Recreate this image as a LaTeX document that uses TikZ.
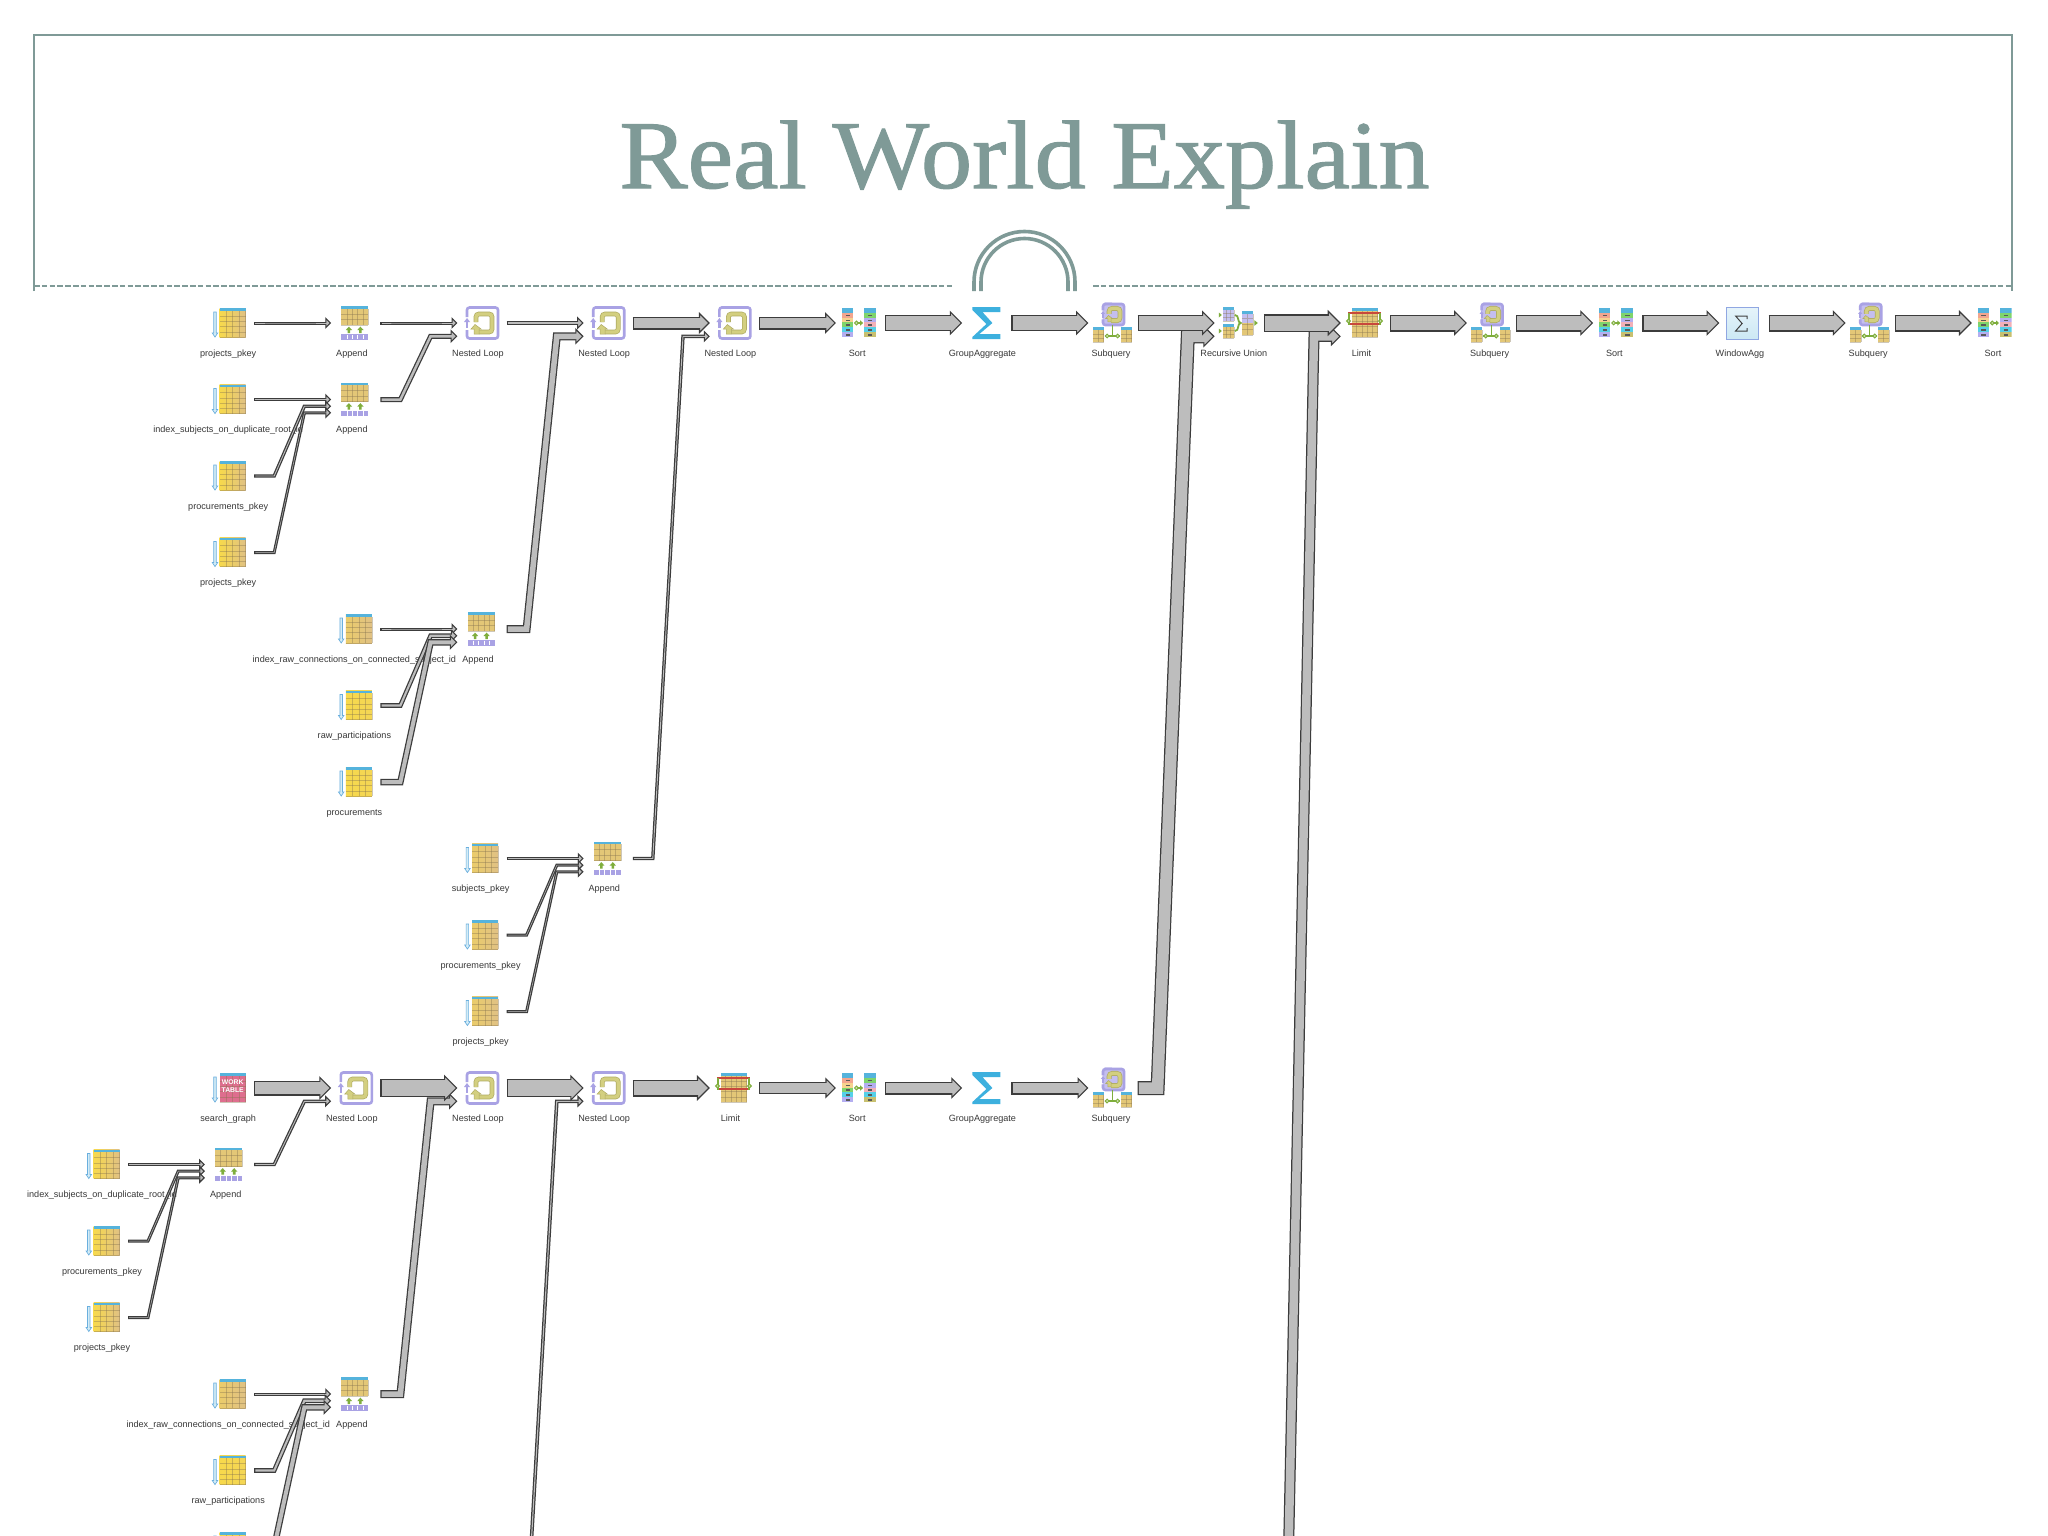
\documentclass[tikz,border=0pt]{standalone}
\usepackage{fontspec}
\usetikzlibrary{calc}
\setmainfont{Liberation Sans}
\newfontfamily\titlefont[FakeBold=1.1]{Liberation Serif}
\definecolor{framec}{HTML}{7F9A97}
\definecolor{flowg}{HTML}{BDBDBD}
\definecolor{flowd}{HTML}{3C3C3C}
\definecolor{hdrb}{HTML}{55B3DC}
\definecolor{ytop}{HTML}{F7D94C}
\definecolor{tanb}{HTML}{E0C184}
\definecolor{purp}{HTML}{A9A2E4}
\definecolor{purpl}{HTML}{C4BEF0}
\definecolor{loopy}{HTML}{D3CF80}
\definecolor{loopd}{HTML}{AFAB62}
\definecolor{gre}{HTML}{7FAE3C}
\definecolor{sigb}{HTML}{3DB0DE}
\definecolor{redb}{HTML}{C8483C}
\definecolor{pinkb}{HTML}{DE6E8E}
\definecolor{sa}{HTML}{F2A58E}
\definecolor{sb}{HTML}{F6D28E}
\definecolor{sc}{HTML}{7FD46C}
\definecolor{sd}{HTML}{55D0E8}
\definecolor{se}{HTML}{B4AEF0}
\definecolor{sf}{HTML}{C8C070}
\definecolor{sg}{HTML}{F2B0B8}
\tikzset{
  opnode/.style={minimum width=50pt,minimum height=30pt,inner sep=0pt,outer sep=0pt},
  oplabel/.style={anchor=base,inner sep=0pt,text=black!78,font=\fontsize{9.1}{10}\selectfont},
  flowline/.style={draw=flowd,line cap=butt,line join=miter},
  flowcore/.style={draw=flowg,line cap=butt,line join=miter},
  flowhead/.style={fill=flowg,draw=flowd,line width=1.1pt,line join=miter},
  gridl/.style={draw=black!40!tanb,line width=.45pt,opacity=.4},
  ygrad/.style={left color=ytop,right color=tanb},
  ytan/.style={left color=ytop!45!tanb,right color=tanb},
  ysolid/.style={left color=ytop,right color=ytop!85!tanb},
  tanfill/.style={fill=tanb!90!yellow},
  pinkfill/.style={fill=pinkb},
  purpfill/.style={fill=purpl},
  framel/.style={draw=framec,line width=1.7pt},
  framedash/.style={draw=framec,line width=1.5pt,dash pattern=on 5.6pt off 2.2pt},
  archl/.style={draw=framec,line width=3.6pt},
  loopp/.style={draw=purp,line width=2.6pt,rounded corners=2.5pt},
  loopo/.style={draw=loopd,line width=4.8pt,rounded corners=3pt},
  loopc/.style={draw=loopy,line width=3.4pt,rounded corners=3pt},
  gline/.style={draw=gre,line width=1.3pt},
  wlabel/.style={inner sep=0pt,text=white,font=\bfseries\fontsize{6.8}{7.5}\selectfont},
}
% table: x0,y0,x1,y1,nx,ny,fill style
\newcommand{\tbl}[7]{%
  \path[#7] (#1,#2) rectangle (#3,#4);
  \fill[hdrb] (#1,#2) rectangle (#3,#2+2.8);
  \foreach \i in {1,...,#5}{\draw[gridl] ({#1+(#3-#1)*\i/#5},#2+2.8) -- ({#1+(#3-#1)*\i/#5},#4);}
  \foreach \j in {1,...,#6}{\draw[gridl] (#1,{#2+2.8+(#4-#2-2.8)*\j/#6}) -- (#3,{#2+2.8+(#4-#2-2.8)*\j/#6});}
}
\newcommand{\scanarrow}{%
  \draw[draw=hdrb!75!purp,fill=hdrb!25,line width=.7pt] (-15.5,-11) -- (-13,-11) -- (-13,10) -- (-11.5,10) -- (-14.2,14) -- (-16.9,10) -- (-15.5,10) -- cycle;
}
\newcommand{\loopdraw}{%
  \draw[loopp] (-13,-15.5) -- (16,-15.5) -- (16,15.5) -- (-15,15.5) -- (-15,7);
  \draw[loopp] (-15,-6) -- (-15,-15.5) -- (-12,-15.5);
  \fill[purp] (-15,-5) -- (-18,-1) -- (-12,-1) -- cycle;
  \fill[purp] (-16.3,-1) rectangle (-13.7,5);
  \draw[loopo] (-6,-1) -- (-6,-9) -- (10,-9) -- (10,9) -- (-3,9);
  \draw[loopc] (-6,-1) -- (-6,-9) -- (10,-9) -- (10,9) -- (-3,9);
  \fill[loopy,draw=loopd,line width=.5pt] (-7,1.5) -- (-11,6) -- (-8,6) -- (-8,11) -- (-3,11) -- (-3,6) -- (-1,6) -- cycle;
}
\newcommand{\stackcol}[3]{%
  \foreach \c [count=\i from 0] in {#3}{%
    \fill[fill=\c] (#1,{-15+\i*4.83}) rectangle (#2,{-15+(\i+1)*4.83});
    \ifnum\i>0 \fill[black!65] ({(#1+#2)/2-2.2},{-15+(\i+.4)*4.83}) rectangle ({(#1+#2)/2+2.2},{-15+(\i+.7)*4.83});\fi
  }%
}
\newcommand{\dotg}[2]{\draw[gre,line width=1pt,fill=gre!35] (#1,#2) circle[radius=1.9];}
\tikzset{
  tableicon/.pic={code={\scanarrow\tbl{-9.5}{-15}{16.5}{14}{4}{5}{ygrad}}},
  paleicon/.pic={code={\scanarrow\tbl{-9.5}{-15}{16.5}{14}{4}{5}{ytan}}},
  yellowicon/.pic={code={\scanarrow\tbl{-9.5}{-15}{16.5}{14}{4}{5}{ysolid}}},
  workicon/.pic={code={\scanarrow\tbl{-9.5}{-15}{16.5}{14}{4}{5}{pinkfill}}},
  appendicon/.pic={code={%
    \tbl{-14}{-17}{13}{2}{5}{3}{tanfill}
    \fill[gre] (-6.5,3.6) -- (-9.6,7) -- (-7.8,7) -- (-7.8,10) -- (-5.2,10) -- (-5.2,7) -- (-3.4,7) -- cycle;
    \fill[gre] (5,3.6) -- (1.9,7) -- (3.7,7) -- (3.7,10) -- (6.3,10) -- (6.3,7) -- (8.1,7) -- cycle;
    \fill[purp] (-14,11) rectangle (13,16.6);
    \foreach \i in {1,...,4}{\draw[white,line width=.5pt] ({-14+27*\i/5},11.6) -- ({-14+27*\i/5},16);}
  }},
  loopicon/.pic={code={\begin{scope}[shift={(.4,0)}]\loopdraw\end{scope}}},
  sorticon/.pic={code={%
    \stackcol{-18}{-7}{hdrb,sa,sb,sc,sd,se}
    \stackcol{4}{16}{hdrb,sc,se,sg,sd,sf}
    \draw[gline] (-5,0) -- (1,0);
    \fill[gre] (3,0) -- (0,-2.6) -- (0,2.6) -- cycle;
    \dotg{-3.8}{0}
  }},
  sumicon/.pic={code={%
    \fill[sigb] (-14,-16) -- (14,-16) -- (14,-11) -- (-4,-11) -- (6,0) -- (-7,11) -- (14,11) -- (14,16) -- (-14,16) -- (-14,14) -- (0,1) -- (-14,-13) -- cycle;
  }},
  subicon/.pic={code={%
    \fill[purpl,rounded corners=2pt] (-10,-19.5) rectangle (11.5,2);
    \begin{scope}[shift={(.6,-8.5)},scale=.68]\loopdraw\end{scope}
    \tbl{-20}{4}{-9}{19}{2}{3}{tanfill}
    \tbl{8.5}{4}{19}{19}{2}{3}{tanfill}
    \draw[gline] (-8,13) -- (7,13);
    \draw[gline] (0,2) -- (0,13);
    \dotg{-5.5}{13}\dotg{5}{13}
  }},
  unionicon/.pic={code={%
    \tbl{-16}{-16}{-5}{-2}{3}{3}{purpfill}
    \tbl{-16}{1}{-5}{15}{3}{3}{tanfill}
    \fill[purpl] (3,-12) rectangle (14,0);
    \tbl{3}{-12}{14}{12}{2}{4}{tanfill}
    \fill[purpl] (3,-9) rectangle (14,0);
    \draw[gridl] (3,-5) -- (14,-5) (8.5,-9) -- (8.5,0);
    \draw[gre,line width=1.8pt] (-4,-8) .. controls (1,-8) and (-2,0) .. (2,0) .. controls (-2,0) and (1,8) .. (-4,8);
    \fill[gre] (19,0) -- (15.5,-2.8) -- (15.5,2.8) -- cycle;
    \fill[gre] (-17,-8) -- (-20,-10.5) -- (-20,-5.5) -- cycle;
    \fill[gre] (-17,8) -- (-20,5.5) -- (-20,10.5) -- cycle;
  }},
  limiticon/.pic={code={%
    \tbl{-13.5}{-15}{12.5}{14}{5}{5}{tanfill}
    \fill[redb] (-17,-11.2) rectangle (16,-8.8);
    \fill[redb] (-17,-0.1) rectangle (16,2.3);
    \draw[gline] (-16,-10) -- (-16,2) (15,-10) -- (15,2);
    \dotg{-16.5}{-2}\dotg{15.5}{-2}
  }},
  winicon/.pic={code={%
    \draw[draw=purp!70!hdrb,line width=1pt,top color=white!85!hdrb,bottom color=white!70!hdrb] (-17.5,-16) rectangle (14.5,16);
    \draw[black!75,line width=1pt,line join=miter] (3.5,-4) -- (3.5,-7) -- (-8,-7) -- (-1.5,0.5) -- (-8,8) -- (3.5,8) -- (3.5,5);
  }},
}
\newcommand{\op}[6]{%
  \node[opnode] (#1) at ({103+126.2*#2},{323+76.5*#3}) {};
  \pic at (#1) {#4};
  \node[oplabel] (#1-l) at ($(#1)+(#6,33)$) {#5};
}
% \flow[offset]{from}{to}{total width}
\newcommand{\flow}[4][0]{%
  \pgfmathsetmacro{\hh}{#4/2+3}
  \pgfmathsetmacro{\iw}{max(#4-2.5,0.2)}
  \coordinate (fs) at (#2.east);
  \coordinate (fe) at ($(#3.west)+(0,#1)$);
  \coordinate (fb) at ($(fs)+(20,0)$);
  \coordinate (fc) at ($(fe)+(-26,0)$);
  \draw[flowline,line width=#4pt] (fs) -- (fb) -- (fc) -- ($(fe)+(-\hh,0)$);
  \draw[flowhead] (fe) -- ($(fe)+(-\hh,-\hh)$) -- ($(fe)+(-\hh,\hh)$) -- cycle;
  \draw[flowcore,line width=\iw pt] ($(fs)+(1.2,0)$) -- (fb) -- (fc) -- ($(fe)+(-\hh+1.6,0)$);
}
\begin{document}
\begin{tikzpicture}[x=1pt,y=-1pt]
\useasboundingbox (0,0) rectangle (2048,1536);
\fill[white] (0,0) rectangle (2048,1536);
\clip (0,0) rectangle (2048,1536);
% title panel
\node[inner sep=0pt,anchor=base,text=framec,xscale=1.055] (title) at (1024.5,188) {\titlefont\fontsize{97}{100}\selectfont Real World Explain};
\draw[framel] (34,291) -- (34,35) -- (2012,35) -- (2012,291);
\draw[framedash] (34,286) -- (954,286);
\draw[framedash] (1093,286) -- (2012,286);
\draw[archl] (974,291) -- (974,282) arc[start angle=180,end angle=360,radius=50.5] -- (1075,291);
\draw[archl] (981,291) -- (981,282) arc[start angle=180,end angle=360,radius=43.5] -- (1068,291);
% operators
\op{a1}{1}{0}{tableicon}{projects\_pkey}{-1}
\op{a2}{2}{0}{appendicon}{Append}{-3.5}
\op{a3}{3}{0}{loopicon}{Nested Loop}{-3.6}
\op{a4}{4}{0}{loopicon}{Nested Loop}{-3.6}
\op{a5}{5}{0}{loopicon}{Nested Loop}{-3.6}
\op{a6}{6}{0}{sorticon}{Sort}{-3}
\op{a7}{7}{0}{sumicon}{GroupAggregate}{-4}
\op{a8}{8}{0}{subicon}{Subquery}{-1.6}
\op{a9}{9}{0}{unionicon}{Recursive Union}{-5}
\op{a10}{10}{0}{limiticon}{Limit}{-3.5}
\op{a11}{11}{0}{subicon}{Subquery}{-1.6}
\op{a12}{12}{0}{sorticon}{Sort}{-3}
\op{a13}{13}{0}{winicon}{WindowAgg}{-3.6}
\op{a14}{14}{0}{subicon}{Subquery}{-1.6}
\begin{scope}
\clip (1960,290) rectangle (2011.5,370);
\op{a15}{15}{0}{sorticon}{Sort}{-3}
\end{scope}
\op{b1}{1}{1}{tableicon}{index\_subjects\_on\_duplicate\_root\_id}{-1}
\op{b2}{2}{1}{appendicon}{Append}{-3.5}
\op{c1}{1}{2}{tableicon}{procurements\_pkey}{-1}
\op{d1}{1}{3}{tableicon}{projects\_pkey}{-1}
\op{e2}{2}{4}{paleicon}{index\_raw\_connections\_on\_connected\_subject\_id}{-1}
\op{e3}{3}{4}{appendicon}{Append}{-3.5}
\op{f2}{2}{5}{yellowicon}{raw\_participations}{-1}
\op{g2}{2}{6}{yellowicon}{procurements}{-1}
\op{h3}{3}{7}{paleicon}{subjects\_pkey}{-1}
\op{h4}{4}{7}{appendicon}{Append}{-3.5}
\op{i3}{3}{8}{paleicon}{procurements\_pkey}{-1}
\op{j3}{3}{9}{paleicon}{projects\_pkey}{-1}
\op{k1}{1}{10}{workicon}{search\_graph}{-1}
\node[wlabel] (wk1) at ($(k1)+(3.5,-6)$) {WORK};
\node[wlabel] (wk2) at ($(k1)+(3.5,2.5)$) {TABLE};
\op{k2}{2}{10}{loopicon}{Nested Loop}{-3.6}
\op{k3}{3}{10}{loopicon}{Nested Loop}{-3.6}
\op{k4}{4}{10}{loopicon}{Nested Loop}{-3.6}
\op{k5}{5}{10}{limiticon}{Limit}{-3.5}
\op{k6}{6}{10}{sorticon}{Sort}{-3}
\op{k7}{7}{10}{sumicon}{GroupAggregate}{-4}
\op{k8}{8}{10}{subicon}{Subquery}{-1.6}
\op{l0}{0}{11}{tableicon}{index\_subjects\_on\_duplicate\_root\_id}{-1}
\op{l1}{1}{11}{appendicon}{Append}{-3.5}
\op{m0}{0}{12}{tableicon}{procurements\_pkey}{-1}
\op{n0}{0}{13}{tableicon}{projects\_pkey}{-1}
\op{o1}{1}{14}{paleicon}{index\_raw\_connections\_on\_connected\_subject\_id}{-1}
\op{o2}{2}{14}{appendicon}{Append}{-3.5}
\op{p1}{1}{15}{yellowicon}{raw\_participations}{-1}
\op{q1}{1}{16}{yellowicon}{}{-1}
% operators below the slide edge that feed the long connectors
\node[opnode] (off3) at ({103+126.2*3},{323+76.5*17}) {};
\node[opnode] (off9) at ({103+126.2*9},{323+76.5*19}) {};
% connectors
\flow{a1}{a2}{3}
\flow[13.3]{b2}{a3}{5}
\flow{a2}{a3}{3}
\flow[13.3]{e3}{a4}{8}
\flow{a3}{a4}{4.4}
\flow[13.3]{h4}{a5}{3.4}
\flow{a4}{a5}{13}
\flow{a5}{a6}{13}
\flow{a6}{a7}{16}
\flow{a7}{a8}{16}
\flow[13.3]{k8}{a9}{14}
\flow{a8}{a9}{16.5}
\flow[13.3]{off9}{a10}{11}
\flow{a9}{a10}{17.5}
\flow{a10}{a11}{17}
\flow{a11}{a12}{17}
\flow{a12}{a13}{17}
\flow{a13}{a14}{17}
\flow{a14}{a15}{17}
\flow{b1}{b2}{3}
\flow[6.7]{c1}{b2}{3.4}
\flow[13.3]{d1}{b2}{3}
\flow{e2}{e3}{3}
\flow[6.7]{f2}{e3}{4.6}
\flow[13.3]{g2}{e3}{6.5}
\flow{h3}{h4}{3}
\flow[6.7]{i3}{h4}{3}
\flow[13.3]{j3}{h4}{3}
\flow{k1}{k2}{15}
\flow[13.3]{l1}{k2}{3.4}
\flow[13.3]{o2}{k3}{8}
\flow{k2}{k3}{18}
\flow[13.3]{off3}{k4}{3.6}
\flow{k3}{k4}{18}
\flow{k4}{k5}{17}
\flow{k5}{k6}{12.5}
\flow{k6}{k7}{13}
\flow{k7}{k8}{13}
\flow{l0}{l1}{3}
\flow[6.7]{m0}{l1}{3}
\flow[13.3]{n0}{l1}{3}
\flow{o1}{o2}{3}
\flow[6.7]{p1}{o2}{4.6}
\flow[13.3]{q1}{o2}{6.5}
\end{tikzpicture}
\end{document}
